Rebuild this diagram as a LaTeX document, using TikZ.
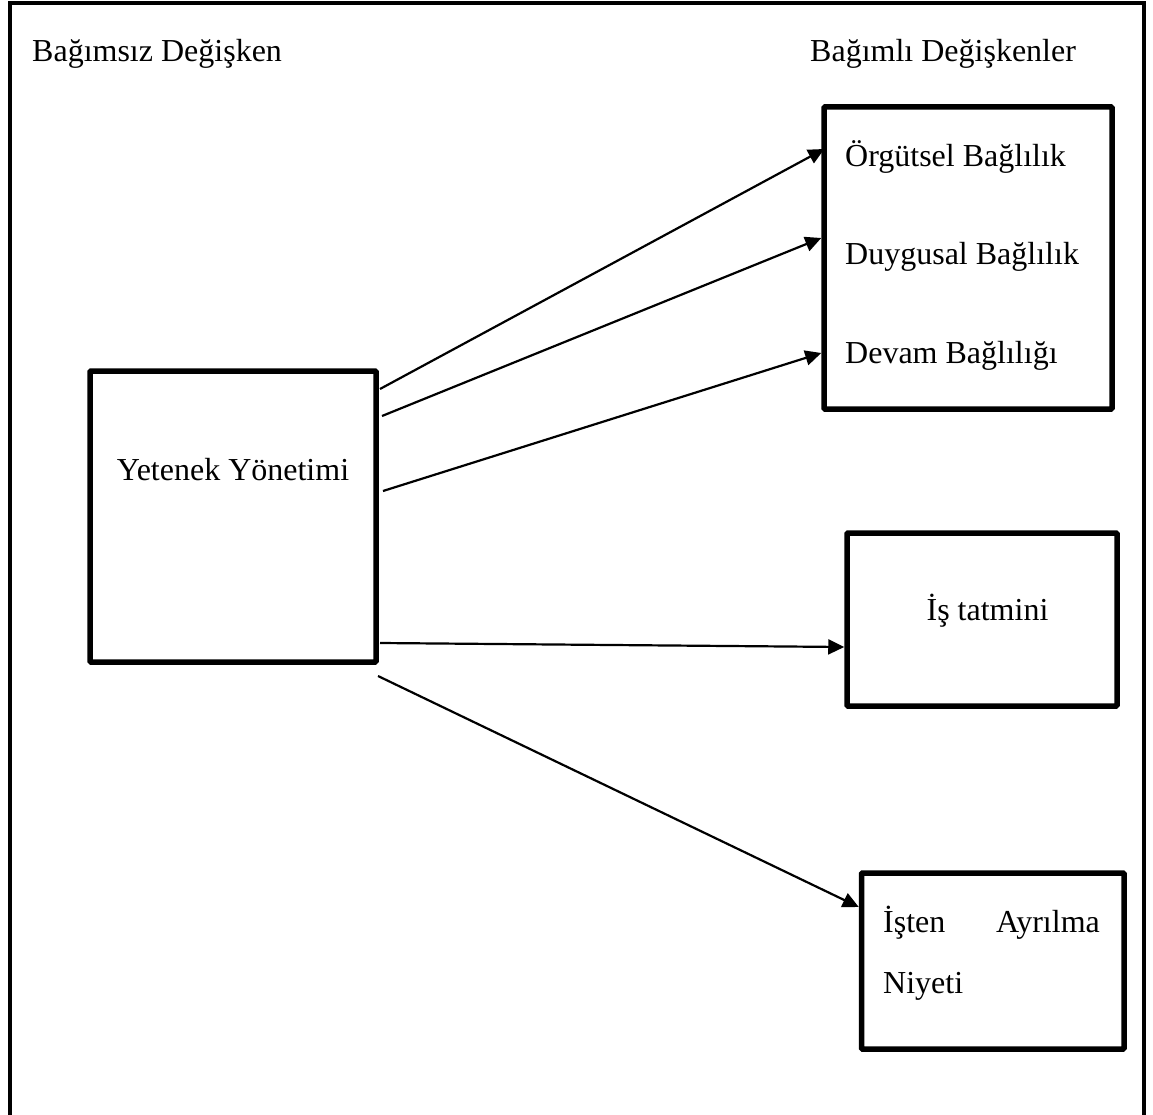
\documentclass[tikz,border=0pt]{standalone}
\usepackage{fontspec}
\setmainfont{Liberation Serif}
\usetikzlibrary{arrows.meta,calc}
\begin{document}
\begin{tikzpicture}[x=1pt,y=-1pt,
  box/.style={draw,line width=5.5pt,rounded corners=1pt,inner sep=0pt},
  lbl/.style={inner sep=0pt,anchor=base west,font=\fontsize{32}{38}\selectfont},
  conn/.style={line width=2.2pt,-{Triangle[length=16pt,width=15pt]}}]
\useasboundingbox (0,0) rectangle (1153,1115);
\draw[line width=4pt] (10,1115) -- (10,3) -- (1144,3) -- (1144,1115);
\node[lbl] (lin) at (32,62) {Bağımsız Değişken};
\node[lbl] (ldep) at (810,62) {Bağımlı Değişkenler};
\node[box,minimum width=286pt,minimum height=291pt] (yy) at (233,516.5) {};
\node[lbl,anchor=base] (tyy) at (233,480) {Yetenek Yönetimi};
\node[box,minimum width=288pt,minimum height=302pt] (dep) at (968,258) {};
\node[lbl] (t1) at (845,167) {Örgütsel Bağlılık};
\node[lbl] (t2) at (845,265) {Duygusal Bağlılık};
\node[lbl] (t3) at (845,363) {Devam Bağlılığı};
\node[box,minimum width=270pt,minimum height=173pt] (is) at (982,619.5) {};
\node[lbl,anchor=base] (tis) at (987.5,620) {İş tatmini};
\node[box,minimum width=262.5pt,minimum height=176pt] (ay) at (992.75,961) {};
\node[lbl] (ta1) at (883,932) {İşten};
\node[lbl,anchor=base east] (ta2) at (1100,932) {Ayrılma};
\node[lbl] (ta3) at (883,993) {Niyeti};
\coordinate (s1) at (380,389);
\coordinate (s2) at (382,416);
\coordinate (s3) at (383,491);
\coordinate (s4) at (380,643);
\coordinate (s5) at (378,676);
\draw[conn] (s1) -- ($(dep.west |- 0,149)+(3,0)$);
\draw[conn] (s2) -- (dep.west |- 0,238);
\draw[conn] (s3) -- (dep.west |- 0,353);
\draw[conn] (s4) -- (is.west |- 0,647);
\draw[conn] (s5) -- (ay.west |- 0,907);
\end{tikzpicture}
\end{document}
